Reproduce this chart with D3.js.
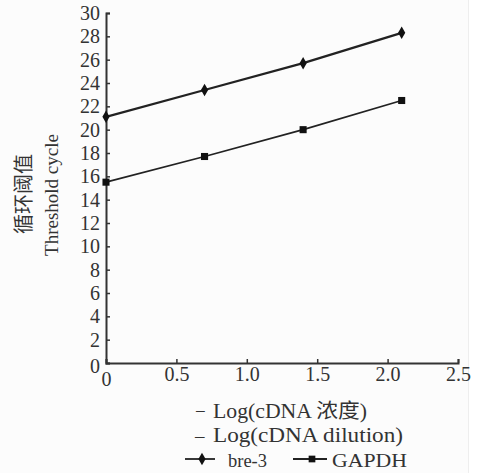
<html>
<head>
<script src="https://d3js.org/d3.v7.min.js"></script>
<style>
  body { margin: 0; background: #fff; }
  text { font-family: "Liberation Serif", "Noto Sans CJK SC", serif; fill: #333; }
</style>
</head>
<body>
<script>
var dilution = [0, 0.7, 1.4, 2.1];
var bre3 = [21.1, 23.4, 25.7, 28.3];
var gapdh = [15.5, 17.7, 20.0, 22.5];
var xTicks = [0, 0.5, 1.0, 1.5, 2.0, 2.5];
var yTicks = d3.range(0, 31, 2);

var W = 480, H = 473,
    margin = { top: 13, right: 22, bottom: 110, left: 106 };
var width = W - margin.left - margin.right,
    height = H - margin.top - margin.bottom;

var svg = d3.select('body').append('svg')
    .attr('width', W).attr('height', H);

// scanned page background, slightly off-white up to the right edge
svg.append('rect').attr('width', 468).attr('height', H).attr('fill', '#fcfcfc');
svg.append('line').attr('x1', 468.5).attr('x2', 468.5).attr('y1', 0).attr('y2', H)
  .attr('stroke', '#eee');

var g = svg.append('g')
    .attr('transform', 'translate(' + margin.left + ',' + margin.top + ')');

var x = d3.scaleLinear().domain([0, 2.5]).range([0, width]);
var y = d3.scaleLinear().domain([0, 30]).range([height, 0]);

var xAxis = g.append('g')
    .attr('transform', 'translate(0,' + height + ')')
    .call(d3.axisBottom(x).tickValues(xTicks).tickSize(-4).tickPadding(4)
      .tickFormat(function(d) { return d === 0 ? '0' : d3.format('.1f')(d); }));

var yAxis = g.append('g')
    .call(d3.axisLeft(y).tickValues(yTicks).tickSize(-4).tickPadding(6));

[xAxis, yAxis].forEach(function(a) {
  a.select('.domain').attr('stroke', '#333').attr('stroke-width', 2);
  a.selectAll('.tick line').attr('stroke', '#333').attr('stroke-width', 1.5);
  a.selectAll('text').style('font-size', '20px').attr('fill', '#333');
});
yAxis.selectAll('.tick').filter(function(d) { return d === 0; }).select('text').attr('dy', '0.45em');
xAxis.selectAll('.tick').filter(function(d) { return d === 0; }).select('text').attr('dy', '0.95em');

var line = d3.line()
  .x(function(d) { return x(d[0]); })
  .y(function(d) { return y(d[1]); });

function series(vals, marker, sw) {
  var pts = dilution.map(function(d, i) { return [d, vals[i]]; });
  g.append('path').datum(pts)
    .attr('fill', 'none').attr('stroke', '#222').attr('stroke-width', sw)
    .attr('d', line);
  g.selectAll(null).data(pts).enter().append('path')
    .attr('transform', function(d) { return 'translate(' + x(d[0]) + ',' + y(d[1]) + ')'; })
    .attr('d', d3.symbol().type(marker).size(marker === d3.symbolDiamond ? 45 : 50))
    .attr('fill', '#111');
}
series(bre3, d3.symbolDiamond, 2.3);
series(gapdh, d3.symbolSquare, 1.7);

// y label
svg.append('text')
  .attr('transform', 'translate(31,194) rotate(-90)')
  .attr('text-anchor', 'middle').style('font-size', '20px')
  .style('font-family', '"Noto Sans CJK SC", serif')
  .text('循环阈值');
svg.append('text')
  .attr('transform', 'translate(58,195) rotate(-90)')
  .attr('text-anchor', 'middle').style('font-size', '19px')
  .text('Threshold cycle');

// x label (two lines, dash then text)
var xLab = [
  { s: 'Log(cDNA 浓度)', y: 418, len: 154, dash: '−' },
  { s: 'Log(cDNA dilution)', y: 442, len: 190, dash: '–' }
];
xLab.forEach(function(l) {
  svg.append('text').attr('x', 195).attr('y', l.y).style('font-size', '19px').text(l.dash);
  svg.append('text').attr('x', 213).attr('y', l.y).style('font-size', '20px')
    .attr('textLength', l.len).attr('lengthAdjust', 'spacingAndGlyphs').text(l.s);
});

// legend
var leg = svg.append('g').attr('transform', 'translate(0,459)');
var items = [
  { name: 'bre-3', sym: d3.symbolDiamond, x0: 185, x1: 215, xm: 202, xt: 228, len: 39 },
  { name: 'GAPDH', sym: d3.symbolSquare, x0: 293, x1: 327, xm: 312, xt: 332, len: 75 }
];
items.forEach(function(it) {
  leg.append('line').attr('x1', it.x0).attr('x2', it.x1).attr('y1', 0).attr('y2', 0)
    .attr('stroke', '#222').attr('stroke-width', 1.8);
  leg.append('path').attr('transform', 'translate(' + it.xm + ',0)')
    .attr('d', d3.symbol().type(it.sym).size(45)).attr('fill', '#111');
  leg.append('text').attr('x', it.xt).attr('y', 8)
    .attr('textLength', it.len).attr('lengthAdjust', 'spacingAndGlyphs')
    .style('font-size', '19px').text(it.name);
});
</script>
</body>
</html>
